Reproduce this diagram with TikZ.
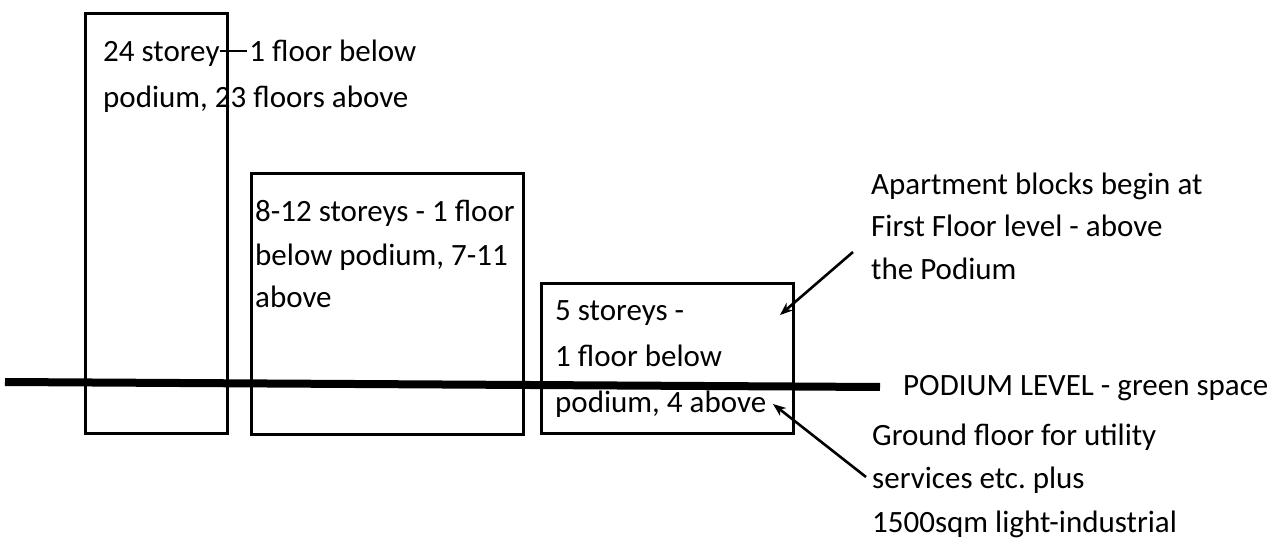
\documentclass[tikz,border=0pt]{standalone}
\usepackage{fontspec}
\setmainfont{Carlito}
\usetikzlibrary{arrows.meta}
\begin{document}
\frenchspacing
\begin{tikzpicture}[x=1pt,y=-1pt,
  bld/.style={draw,line width=2.6pt,inner sep=0pt,anchor=north west},
  lbl/.style={anchor=base west,inner sep=0pt,font=\fontsize{31}{42}\selectfont},
  ptr/.style={line width=2.6pt,-{Stealth[length=13pt,width=10pt]}}]
\useasboundingbox (0,0) rectangle (1278,543);
% buildings
\node[bld,minimum width=142pt,minimum height=420pt] (b1) at (84,12) {};
\node[bld,minimum width=272pt,minimum height=261pt] (b2) at (250,172) {};
\node[bld,minimum width=252pt,minimum height=150pt] (b3) at (540,282) {};
% podium line
\coordinate (pl) at (5,382);
\coordinate (pr) at (880,387);
\draw[line width=8pt] (pl) -- (pr);
% labels in boxes
\node[lbl] (t1a) at (103,62) {24 storey\kern1pt\rule[10pt]{27pt}{2pt}\kern2pt 1 floor below};
\node[lbl] (t1b) at (103,107) {podium, 23 floors above};
\node[lbl] (t2a) at (255,221) {8-12 storeys - 1 floor};
\node[lbl] (t2b) at (255,265) {below podium, 7-11};
\node[lbl] (t2c) at (255,307) {above};
\node[lbl] (t3a) at (555,320) {5 storeys -};
\node[lbl] (t3b) at (555,366) {1 floor below};
\node[lbl] (t3c) at (555,412) {podium, 4 above};
% right labels
\node[lbl] (r1) at (871,194) {Apartment blocks begin at};
\node[lbl] (r2) at (871,236) {First Floor level - above};
\node[lbl] (r3) at (871,279) {the Podium};
\node[lbl] (pod) at (903,395) {PODIUM LEVEL - green space};
\node[lbl] (g1) at (872,445) {Ground floor for utility};
\node[lbl] (g2) at (872,488) {services etc. plus};
\node[lbl] (g3) at (872,532) {1500sqm light-industrial};
% arrows
\coordinate (a1s) at (853,252);
\coordinate (a1e) at (780,315);
\coordinate (a2s) at (866,477);
\coordinate (a2e) at (773,404);
\draw[ptr] (a1s) -- (a1e);
\draw[ptr] (a2s) -- (a2e);
\end{tikzpicture}
\end{document}
